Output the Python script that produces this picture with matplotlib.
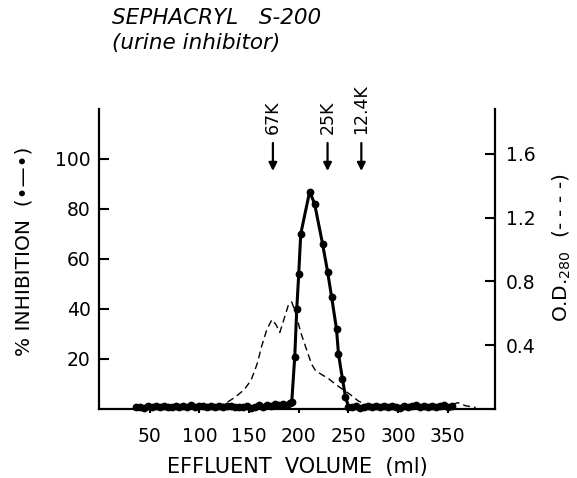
import numpy as np
import matplotlib.pyplot as plt

# data
vol_inh = [36, 40, 44, 48, 52, 56, 60, 64, 68, 72, 76, 80, 84, 88, 92, 96, 100,
           104, 108, 112, 116, 120, 124, 128, 132, 136, 140, 144, 148, 152, 156,
           160, 164, 168, 172, 176, 180, 184, 188, 191,
           193, 196, 198, 200, 202, 211, 216, 224, 229, 233, 238, 240, 244, 247, 250,
           254, 258, 262, 266, 270, 274, 278, 282, 286, 290, 294, 298, 302, 306,
           310, 314, 318, 322, 326, 330, 334, 338, 342, 346, 350, 354]
inhibition = [0.8, 1.0, 0.6, 1.2, 0.9, 1.1, 0.7, 1.3, 0.9, 1.0, 1.4, 0.8, 1.2, 1.0,
              1.5, 0.9, 1.1, 1.3, 0.8, 1.2, 1.0, 1.4, 0.9, 1.1, 1.3, 0.7, 1.0, 0.8,
              1.2, 0.5, 1.0, 1.6, 0.9, 1.8, 1.2, 2.2, 1.5, 2.0, 1.7, 2.5,
              3.0, 21, 40, 54, 70, 87, 82, 66, 55, 45, 32, 22, 12, 5, 1.0,
              0.8, 1.2, 0.6, 1.0, 1.3, 0.7, 1.1, 0.9, 1.4, 0.8, 1.2, 1.0, 0.6, 1.3,
              0.9, 1.1, 1.5, 0.8, 1.2, 1.0, 1.4, 0.9, 1.3, 1.6, 1.0, 1.2]

vol_od = [40, 80, 110, 125, 135, 145, 152, 158, 163, 168, 173, 177, 181, 185, 190,
          193, 197, 202, 208, 213, 217, 222, 230, 238, 245, 252, 260, 268, 280,
          300, 340, 352, 360, 368, 378]
od280 = [0.0, 0.0, 0.01, 0.03, 0.07, 0.12, 0.18, 0.28, 0.40, 0.50, 0.56, 0.53,
         0.48, 0.56, 0.66, 0.67, 0.60, 0.48, 0.37, 0.28, 0.24, 0.22, 0.19, 0.15,
         0.12, 0.09, 0.05, 0.025, 0.01, 0.01, 0.01, 0.02, 0.04, 0.02, 0.01]

markers_x = [174, 229, 263]
markers_lab = ["67K", "25K", "12.4K"]

xticks = [50, 100, 150, 200, 250, 300, 350]
yticks_l = [20, 40, 60, 80, 100]
yticks_r = [0.4, 0.8, 1.2, 1.6]

plt.rcParams['font.family'] = 'DejaVu Sans'

fig = plt.figure(figsize=(5.77, 4.78), dpi=100)
ax1 = fig.add_axes([99/577, 1-409/478, 396/577, 300/478])
ax2 = ax1.twinx()
ax1.set_zorder(ax2.get_zorder() + 1)
ax1.patch.set_visible(False)

ax2.plot(vol_od, od280, color='k', lw=1.0, dashes=(5, 3))
ax1.plot(vol_inh, inhibition, color='k', lw=2.2, marker='o', ms=4.6,
         clip_on=False)

ax1.set_xlim(-1, 397.5)
ax1.set_ylim(0, 120)
ax2.set_ylim(0, 1.88)

ax1.set_xticks(xticks)
ax1.set_yticks(yticks_l)
ax2.set_yticks(yticks_r)
ax1.set_xticklabels([str(v) for v in xticks], fontsize=13.5)
ax1.set_yticklabels([str(v) for v in yticks_l], fontsize=13.5)
ax2.set_yticklabels([str(v) for v in yticks_r], fontsize=13.5)

for a in (ax1, ax2):
    a.spines['top'].set_visible(False)
    for s in a.spines.values():
        s.set_linewidth(1.6)
ax1.spines['right'].set_visible(False)
ax2.spines['left'].set_visible(False)
ax2.spines['bottom'].set_visible(False)

ax1.tick_params(axis='y', direction='in', length=7, width=1.5, pad=6)
ax1.tick_params(axis='x', direction='out', length=3, width=1.5, pad=10)
ax2.tick_params(axis='y', direction='in', length=7, width=1.5, pad=8)

# molecular weight markers
for xm, lab in zip(markers_x, markers_lab):
    ax1.annotate("", xy=(xm, 95.2), xytext=(xm, 106.4),
                 arrowprops=dict(arrowstyle='-|>', lw=1.6, color='k',
                                 mutation_scale=12, shrinkA=0, shrinkB=0))
    ax1.text(xm, 110, lab, rotation=90, ha='center', va='bottom', fontsize=12.5)

fig.text(24/577, 1-251/478, "% INHIBITION  (•—•)", rotation=90,
         ha='center', va='center', fontsize=14.5)
fig.text(562/577, 1-248/478, "O.D.$_{280}$  (- - - -)", rotation=90,
         ha='center', va='center', fontsize=14.5)
fig.text(297/577, 1-467/478, "EFFLUENT  VOLUME  (ml)", ha='center',
         va='center', fontsize=15)

fig.text(112/577, 1-18/478, "SEPHACRYL   S-200", style='italic',
         ha='left', va='center', fontsize=15.5)
fig.text(112/577, 1-43/478, "(urine inhibitor)", style='italic',
         ha='left', va='center', fontsize=15.5)

plt.savefig("out.png", dpi=100)
